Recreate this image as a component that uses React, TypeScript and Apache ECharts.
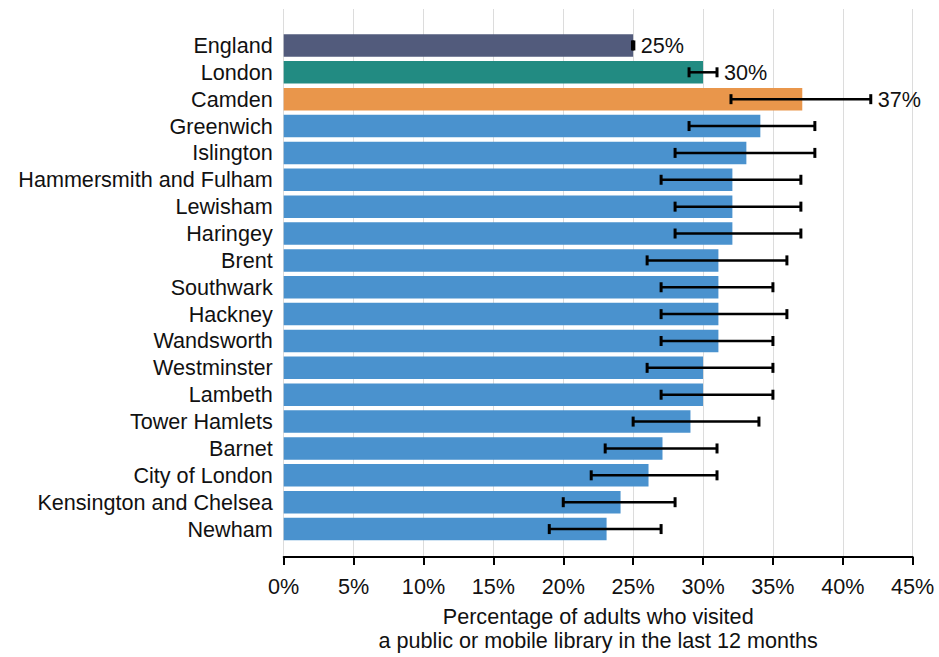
import React, { useEffect, useRef } from "react";
import * as echarts from "echarts";

const categories = [
  "England", "London", "Camden", "Greenwich", "Islington", "Hammersmith and Fulham",
  "Lewisham", "Haringey", "Brent", "Southwark", "Hackney", "Wandsworth",
  "Westminster", "Lambeth", "Tower Hamlets", "Barnet", "City of London",
  "Kensington and Chelsea", "Newham",
];
const values = [25, 30, 37.1, 34.1, 33.1, 32.1, 32.1, 32.1, 31.1, 31.1, 31.1, 31.1, 30, 30, 29.1, 27.1, 26.1, 24.1, 23.1];
const lowerCI = [24.95, 29, 32, 29, 28, 27, 28, 28, 26, 27, 27, 27, 26, 27, 25, 23, 22, 20, 19];
const upperCI = [25.05, 31, 42, 38, 38, 37, 37, 37, 36, 35, 36, 35, 35, 35, 34, 31, 31, 28, 27];
const labelled = ["England", "London", "Camden"];
const xTicks = { min: 0, max: 45, interval: 5 };
const axisTitle = "Percentage of adults who visited\na public or mobile library in the last 12 months";

const colorFor: Record<string, string> = {
  England: "#525B7C",
  London: "#228B82",
  Camden: "#E9964B",
};
const defaultColor = "#4A92CE";
const FONT = "'Liberation Sans', Arial, Helvetica, sans-serif";
const FS = 21.6;

export default function App() {
  const ref = useRef<HTMLDivElement>(null);
  useEffect(() => {
    if (!ref.current) return;
    const chart = echarts.init(ref.current, undefined, { renderer: "svg" });
    const left = 283.7;
    const right = 26.3;
    chart.setOption({
      animation: false,
      textStyle: { fontFamily: FONT },
      grid: [
        { left, right, top: 9, bottom: 90, containLabel: false },
        { left, right, top: 32, bottom: 114.5, containLabel: false },
      ],
      xAxis: [
        {
          gridIndex: 0,
          type: "value",
          min: xTicks.min,
          max: xTicks.max,
          interval: xTicks.interval,
          axisLine: { show: true, lineStyle: { color: "#000", width: 2 } },
          axisTick: { show: true, length: 8, lineStyle: { color: "#000", width: 2 } },
          axisLabel: { formatter: "{value}%", fontSize: FS, color: "#111", margin: 18, fontFamily: FONT },
          splitLine: { show: true, lineStyle: { color: "#dcdcdc", width: 1 } },
          name: axisTitle,
          nameLocation: "middle",
          nameGap: 47,
          nameTextStyle: { fontSize: FS, color: "#111", lineHeight: 24, fontFamily: FONT },
        },
        {
          gridIndex: 1,
          type: "value",
          min: xTicks.min,
          max: xTicks.max,
          interval: xTicks.interval,
          show: false,
        },
      ],
      yAxis: [
        { gridIndex: 0, type: "value", show: false },
        {
          gridIndex: 1,
          type: "category",
          data: categories,
          inverse: true,
          axisLine: { show: false },
          axisTick: { show: false },
          splitLine: { show: false },
          axisLabel: { fontSize: FS, color: "#111", margin: 11, interval: 0, fontFamily: FONT },
        },
      ],
      series: [
        {
          type: "bar",
          xAxisIndex: 1,
          yAxisIndex: 1,
          barWidth: 22.5,
          z: 2,
          data: values.map((v, i) => ({
            value: v,
            itemStyle: { color: colorFor[categories[i]] || defaultColor },
          })),
        },
        {
          type: "custom",
          xAxisIndex: 1,
          yAxisIndex: 1,
          z: 10,
          encode: { x: [1, 2], y: 0 },
          data: categories.map((c, i) => [i, lowerCI[i], upperCI[i], values[i]]),
          renderItem: (params: any, api: any) => {
            const idx = api.value(0);
            const lo = api.coord([api.value(1), idx]);
            const hi = api.coord([api.value(2), idx]);
            const y = lo[1];
            const h = 5;
            const children: any[] = [
              { type: "line", shape: { x1: lo[0], y1: y, x2: hi[0], y2: y }, style: { stroke: "#000", lineWidth: 2.5 } },
              { type: "line", shape: { x1: lo[0], y1: y - h, x2: lo[0], y2: y + h }, style: { stroke: "#000", lineWidth: 3 } },
              { type: "line", shape: { x1: hi[0], y1: y - h, x2: hi[0], y2: y + h }, style: { stroke: "#000", lineWidth: 3 } },
            ];
            const name = categories[params.dataIndex];
            if (labelled.includes(name)) {
              children.push({
                type: "text",
                style: {
                  x: hi[0] + 7,
                  y: y,
                  text: Math.round(api.value(3)) + "%",
                  fill: "#111",
                  fontSize: FS,
                  fontFamily: FONT,
                  align: "left",
                  verticalAlign: "middle",
                },
              });
            }
            return { type: "group", children };
          },
        },
      ],
    });
    return () => chart.dispose();
  }, []);
  return (
    <div
      ref={ref}
      style={{ position: "fixed", left: 0, top: 0, width: 939, height: 657, background: "#fff" }}
    />
  );
}
